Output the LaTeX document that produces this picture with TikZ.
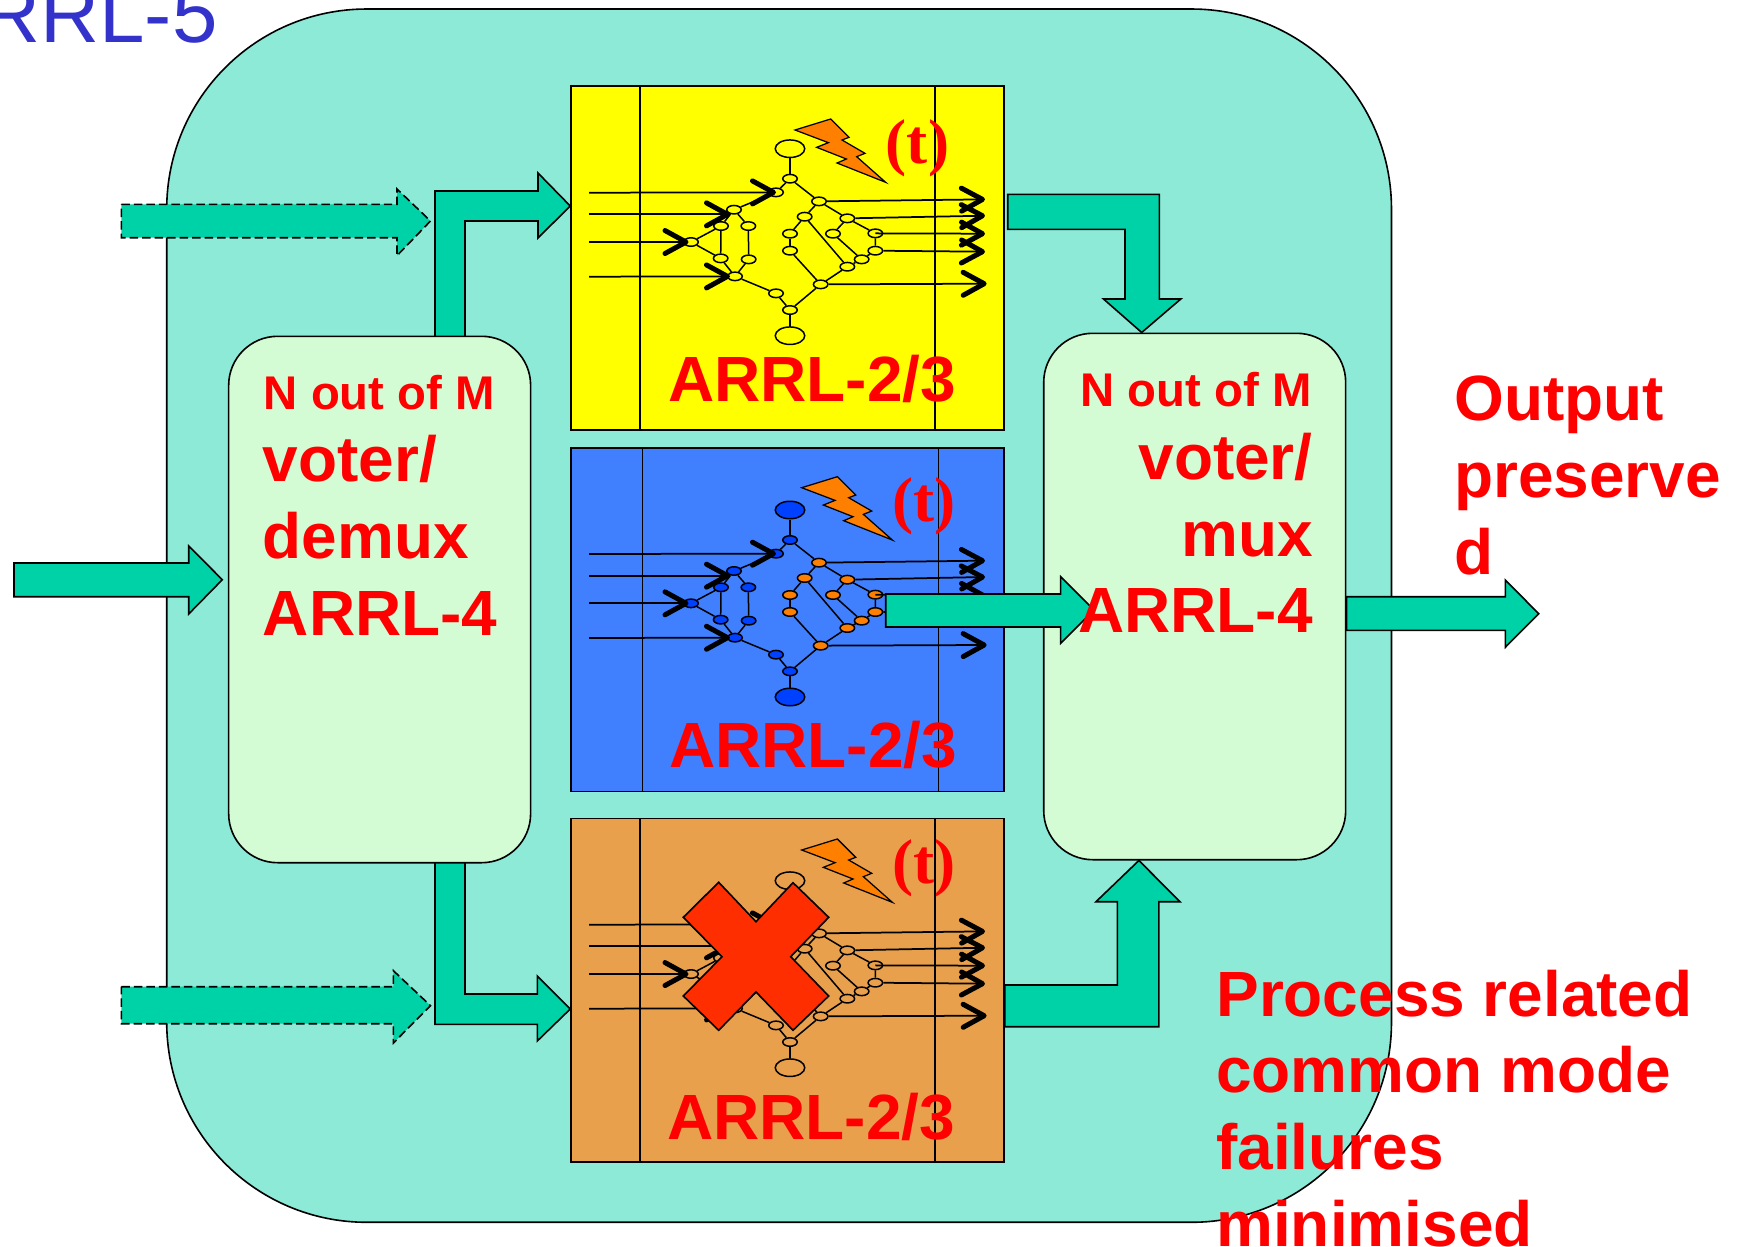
\documentclass[tikz,border=0pt]{standalone}
\usepackage{fontspec}
\setmainfont{Liberation Sans}
\newfontfamily\serifbold{Liberation Serif}[BoldFont={Liberation Serif Bold}]
\usetikzlibrary{arrows.meta}
\definecolor{shellcolor}{RGB}{140, 234, 215}
\definecolor{flowcolor}{RGB}{0, 210, 168}
\definecolor{votercolor}{RGB}{211, 252, 212}
\definecolor{yellowcolor}{RGB}{255, 255, 0}
\definecolor{bluecolor}{RGB}{64, 128, 255}
\definecolor{tancolor}{RGB}{232, 160, 76}
\definecolor{cellblue}{RGB}{0, 64, 255}
\definecolor{boltcolor}{RGB}{255, 128, 0}
\definecolor{crosscolor}{RGB}{255, 46, 0}
\definecolor{titlecolor}{RGB}{51, 51, 204}
\definecolor{textred}{RGB}{255, 0, 0}
\newcommand{\bigfont}{\fontsize{36.4}{43.6}\selectfont\bfseries}
\newcommand{\smallfont}{\fontsize{26.9}{32}\selectfont\bfseries}
\tikzstyle{panel} = [rectangle, draw=black, line width=0.32mm, inner sep=0pt,
                     minimum width=8.66cm, minimum height=6.87cm]
\tikzstyle{voter} = [rectangle, rounded corners=0.98cm, draw=black, fill=votercolor,
                     line width=0.32mm, inner sep=0pt, minimum width=6.04cm, minimum height=10.53cm]
\tikzstyle{flow} = [draw=black, fill=flowcolor, line width=0.32mm, line join=miter]
\tikzstyle{maybeflow} = [flow, dash pattern=on 0.17cm off 0.08cm]
\tikzstyle{panelline} = [draw=black, line width=0.35mm]
\tikzstyle{redtext} = [text=textred, inner sep=0pt, font=\bigfont, align=left, anchor=base west]
\tikzstyle{smalltext} = [text=textred, inner sep=0pt, font=\smallfont, anchor=base west]
\tikzstyle{timetext} = [text=textred, inner sep=0pt, font=\serifbold\fontsize{36}{40}\selectfont\bfseries, anchor=base]
\tikzstyle{cell} = [ellipse, draw=black, line width=0.3mm, inner sep=0pt, minimum width=0.29cm, minimum height=0.17cm]
\tikzstyle{endcell} = [ellipse, draw=black, line width=0.3mm, inner sep=0pt, minimum width=0.59cm, minimum height=0.35cm]
\tikzstyle{edge} = [draw=black, line width=0.3mm]
\tikzstyle{wire} = [line width=0.35mm, -{Straight Barb[length=0.42cm, width=0.46cm, line width=0.1cm, round]}]
\usetikzlibrary{shapes.geometric}
\tikzset{
    pics/fabric/.style 2 args={code={
        %Cells on the input side
        \node at (0,0) (top) [endcell, fill=#1] {};
        \node at (0,561) (bot) [endcell, fill=#1] {};
        \node at (0,90) (n1) [cell, fill=#1] {};
        \node at (-42,131) (n2) [cell, fill=#1] {};
        \node at (-168,183) (n3) [cell, fill=#1] {};
        \node at (-207,232) (n4) [cell, fill=#1] {};
        \node at (-125,232) (n5) [cell, fill=#1] {};
        \node at (-297,280) (n6) [cell, fill=#1] {};
        \node at (-208,329) (n7) [cell, fill=#1] {};
        \node at (-124,332) (n8) [cell, fill=#1] {};
        \node at (-165,383) (n9) [cell, fill=#1] {};
        \node at (-42,434) (n10) [cell, fill=#1] {};
        \node at (0,484) (n11) [cell, fill=#1] {};
        %Cells on the output side
        \node at (87,158) (r1) [cell, fill=#2] {};
        \node at (44,204) (r2) [cell, fill=#2] {};
        \node at (172,209) (r3) [cell, fill=#2] {};
        \node at (0,255) (r4) [cell, fill=#2] {};
        \node at (129,255) (r5) [cell, fill=#2] {};
        \node at (256,254) (r6) [cell, fill=#2] {};
        \node at (0,306) (r7) [cell, fill=#2] {};
        \node at (256,306) (r8) [cell, fill=#2] {};
        \node at (215,332) (r9) [cell, fill=#2] {};
        \node at (172,354) (r10) [cell, fill=#2] {};
        \node at (92,407) (r11) [cell, fill=#2] {};
        %Links
        \foreach \a/\b in {top/n1, n1/n2, n2/n3, n3/n4, n3/n5, n4/n6, n4/n7, n6/n7, n7/n9, n5/n8, n8/n9,
                           n9/n10, n10/n11, n11/bot, n11/r11, n1/r1, r1/r2, r1/r3, r2/r4, r4/r7, r7/r11,
                           r2/r10, r3/r5, r3/r6, r5/r9, r6/r8, r8/r9, r9/r10, r10/r11}
            \draw [edge] (\a) -- (\b);
        %Inputs
        \coordinate (in1) at (-603,132);
        \coordinate (in2) at (-603,197);
        \coordinate (in3) at (-603,280);
        \coordinate (in4) at (-603,384);
        \draw [wire] (in1) -- (n2.center);
        \draw [wire, shorten >=0.08cm] (in2) -- (in2 -| n3);
        \draw [wire, shorten >=0.05cm] (in3) -- (n6.center);
        \draw [wire, shorten >=0.1cm] (in4) -- (n9.center);
        %Outputs
        \coordinate (out1) at (585,152);
        \coordinate (out2) at (585,201);
        \coordinate (out3) at (585,255);
        \coordinate (out4) at (585,309);
        \coordinate (out5) at (590,405);
        \draw [wire] (r1) -- (out1);
        \draw [wire] (r3) -- (out2);
        \draw [wire] (r6.center) -- (out3);
        \draw [wire] (r8) -- (out4);
        \draw [wire] (r11) -- (out5);
    }},
    pics/bolt/.style={code={
        \draw [draw=black, fill=boltcolor, line width=0.25mm]
            (0,0) -- (107,-33) -- (162,22) -- (141,30) -- (210,70) -- (185,80) -- (272,157)
            -- (126,99) -- (154,87) -- (65,52) -- (100,38) -- cycle;
    }}
}

\begin{document}
\begin{tikzpicture}[x=0.02cm, y=-0.02cm]
        \useasboundingbox (0,0) rectangle (1738,1247);

        \node at (779.1,615.65) (shell) [rectangle, rounded corners=4cm, draw=black, fill=shellcolor,
            line width=0.32mm, minimum width=24.5cm, minimum height=24.27cm, inner sep=0pt] {};
        \node at (218,43) (title) [anchor=base east, inner sep=0pt, text=titlecolor, font=\fontsize{46.5}{50}\selectfont] {ARRL-5};

        %Panels
        \node at (787.5,258) (yellowpanel) [panel, fill=yellowcolor] {};
        \node at (787.5,619.8) (bluepanel) [panel, fill=bluecolor] {};
        \node at (787.5,990.3) (tanpanel) [panel, fill=tancolor] {};
        \draw [panelline] ([xshift=1.39cm]yellowpanel.north west) -- ([xshift=1.39cm]yellowpanel.south west);
        \draw [panelline] ([xshift=-1.396cm]yellowpanel.north east) -- ([xshift=-1.396cm]yellowpanel.south east);
        \draw [panelline] ([xshift=1.446cm]bluepanel.north west) -- ([xshift=1.446cm]bluepanel.south west);
        \draw [panelline] ([xshift=-1.326cm]bluepanel.north east) -- ([xshift=-1.326cm]bluepanel.south east);
        \draw [panelline] ([xshift=1.39cm]tanpanel.north west) -- ([xshift=1.39cm]tanpanel.south west);
        \draw [panelline] ([xshift=-1.396cm]tanpanel.north east) -- ([xshift=-1.396cm]tanpanel.south east);

        %Fabric in each panel
        \pic [scale=1/3] (yfab) at (790,148.7) {fabric={yellowcolor}{yellowcolor}};
        \pic [scale=1/3] (bfab) at (790,510) {fabric={cellblue}{boltcolor}};
        \pic [scale=1/3] (tfab) at (790,880.7) {fabric={tancolor}{tancolor}};
        \pic [scale=1/3] (ybolt) at (795,130) {bolt};
        \pic [scale=1/3] (bbolt) at (801.7,487.7) {bolt};
        \pic [scale=1/3] (tbolt) at (801.7,850) {bolt};
        \node at (917.5,163) (ytime) [timetext] {(t)};
        \node at (924,521) (btime) [timetext] {(t)};
        \node at (924,883) (ttime) [timetext] {(t)};
        \draw [draw=black, fill=crosscolor, line width=0.32mm]
            (718.7,882.3) -- (756,921.7) -- (793,882.7) -- (828.7,917.3) -- (790.7,956.7) -- (828.7,996)
            -- (793,1030.3) -- (756,992) -- (718.7,1030.3) -- (683.3,996) -- (722,956.7) -- (683.3,917.3) -- cycle;

        %Dashed inputs
        \draw [maybeflow] (121.3,204.3) -- (397,204.3) -- (397,189) -- (430.5,221) -- (397,255.7) -- (397,237.7) -- (121.3,237.7) -- cycle;
        \draw [maybeflow] (121.3,986.7) -- (393.4,986.7) -- (393.4,970.7) -- (430.5,1005.7) -- (393.4,1043) -- (393.4,1023.7) -- (121.3,1023.7) -- cycle;

        %Voter boxes
        \draw [flow] (435,400) -- (435,191) -- (538,191) -- (538,173) -- (yellowpanel.west |- 0,206) -- (538,238) -- (538,221) -- (465,221) -- (465,400) -- cycle;
        \draw [flow] (435,800) -- (435,1024.3) -- (537.3,1024.3) -- (537.3,1041) -- (tanpanel.west |- 0,1009) -- (537.3,976) -- (537.3,994) -- (465,994) -- (465,800) -- cycle;
        \node at (379.65,599.5) (demux) [voter] {};
        \node at (1194.7,596.5) (mux) [voter] {};

        %Flow arrows
        \draw [flow] (14,563) -- (188.7,563) -- (188.7,546) -- (222.3,579.7) -- (188.7,614) -- (188.7,596.7) -- (14,596.7) -- cycle;
        \draw [flow] (1007.7,194.3) -- (1159.4,194.3) -- (1159.4,299) -- (1180.8,299) -- (mux.north -| 1141.7,0) -- (1103.5,299) -- (1125,299) -- (1125,229.3) -- (1007.7,229.3) -- cycle;
        \draw [flow] (tanpanel.east |- 0,985) -- (1117.4,985) -- (1117.4,901.7) -- (1096,901.7) -- (mux.south -| 1138.9,0) -- (1180,901.7) -- (1158.9,901.7) -- (1158.9,1026.7) -- (tanpanel.east |- 0,1026.7) -- cycle;
        \draw [flow] (885.7,594) -- (1060.6,594) -- (1060.6,576.7) -- (1094,610) -- (1060.6,643.3) -- (1060.6,627) -- (885.7,627) -- cycle;
        \draw [flow] (mux.east |- 0,596.7) -- (1505.3,596.7) -- (1505.3,580) -- (1538.7,613.7) -- (1505.3,647.3) -- (1505.3,630.3) -- (mux.east |- 0,630.3) -- cycle;

        %Labels
        \node at (668,401) (ylabel) [redtext] {ARRL-2/3};
        \node at (669,767.3) (blabel) [redtext] {ARRL-2/3};
        \node at (667,1139) (tlabel) [redtext] {ARRL-2/3};
        \node at (263.5,409) (demuxhead) [smalltext] {N out of M};
        \node at (262.5,635) (demuxtext) [redtext] {voter/\\demux\\ARRL-4};
        \node at (1312,406) (muxhead) [smalltext, anchor=base east] {N out of M};
        \node at (1313,632.7) (muxtext) [redtext, align=right, anchor=base east] {voter/\\mux\\ARRL-4};
        \node at (1454,574) (outtext) [redtext] {Output\\preserve\\d};
        \node at (1216,1246) (failtext) [redtext] {Process related\\common mode\\failures\\minimised};

\end{tikzpicture}
\end{document}
